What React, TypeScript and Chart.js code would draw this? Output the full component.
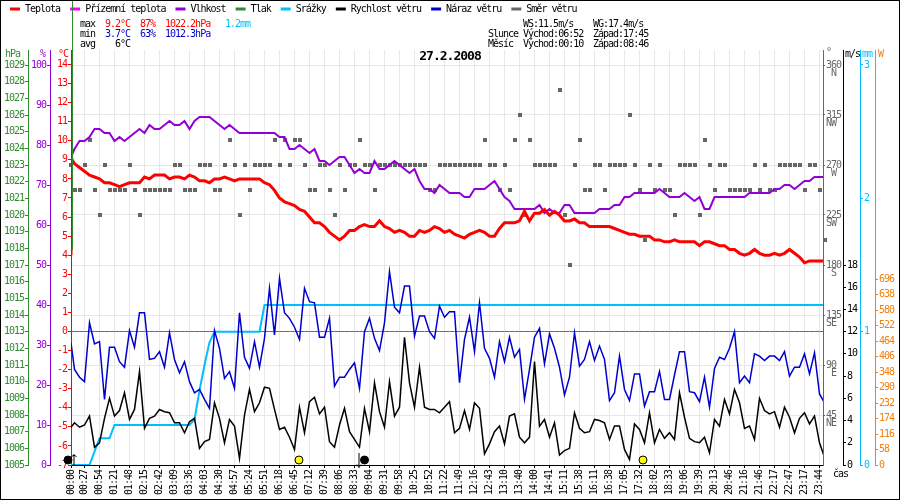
import React, { useEffect, useRef } from 'react';
import { Chart, registerables } from 'chart.js';

Chart.register(...registerables);

const FONT = '"DejaVu Sans Mono"';

const timeLabels = [
  '00:00', '00:27', '00:54', '01:21', '01:48', '02:15', '02:42', '03:09', '03:36', '04:03',
  '04:30', '04:57', '05:24', '05:51', '06:18', '06:45', '07:12', '07:39', '08:06', '08:33',
  '09:04', '09:31', '09:58', '10:25', '10:52', '11:22', '11:49', '12:16', '12:43', '13:10',
  '13:40', '14:00', '14:41', '15:11', '15:38', '16:11', '16:38', '17:05', '17:32', '18:02',
  '18:33', '19:06', '19:39', '20:13', '20:46', '21:16', '21:46', '22:17', '22:47', '23:17',
  '23:44',
];

const temperature = [
  9.1, 8.8, 8.6, 8.4, 8.2, 8.1, 8.0, 7.8, 7.8, 7.7,
  7.6, 7.7, 7.8, 7.8, 7.8, 8.1, 8.0, 8.2, 8.2, 8.2,
  8.0, 8.1, 8.1, 8.0, 8.2, 8.1, 7.9, 7.9, 7.8, 8.0,
  8.0, 8.1, 8.0, 7.9, 8.0, 8.0, 8.0, 8.0, 8.0, 7.8,
  7.7, 7.4, 7.0, 6.8, 6.7, 6.6, 6.4, 6.3, 6.0, 5.7,
  5.7, 5.5, 5.2, 5.0, 4.8, 5.0, 5.3, 5.3, 5.5, 5.6,
  5.5, 5.5, 5.8, 5.5, 5.4, 5.2, 5.3, 5.2, 5.0, 5.0,
  5.3, 5.2, 5.3, 5.5, 5.4, 5.2, 5.3, 5.1, 5.0, 4.9,
  5.1, 5.2, 5.3, 5.2, 5.0, 5.0, 5.4, 5.7, 5.7, 5.7,
  5.8, 6.3, 5.8, 6.2, 6.2, 6.4, 6.1, 6.3, 6.1, 5.8,
  5.8, 5.9, 5.7, 5.7, 5.5, 5.5, 5.5, 5.5, 5.5, 5.4,
  5.3, 5.2, 5.1, 5.1, 5.0, 5.0, 5.0, 4.8, 4.8, 4.7,
  4.7, 4.8, 4.7, 4.7, 4.7, 4.7, 4.5, 4.7, 4.7, 4.6,
  4.5, 4.5, 4.3, 4.3, 4.1, 4.0, 4.1, 4.3, 4.1, 4.0,
  4.0, 4.1, 4.0, 4.1, 4.3, 4.1, 3.9, 3.6, 3.7, 3.7,
  3.7, 3.7,
];
// the logger's first reading, drawn as a spike on the left axis
const temperatureFirst = 4.0;

const dewPoint = [
  0, 0, 0, 0, 0, 0, 0, 0, 0, 0,
  0, 0, 0, 0, 0, 0, 0, 0, 0, 0,
  0, 0, 0, 0, 0, 0, 0, 0, 0, 0,
  0, 0, 0, 0, 0, 0, 0, 0, 0, 0,
  0, 0, 0, 0, 0, 0, 0, 0, 0, 0,
  0, 0, 0, 0, 0, 0, 0, 0, 0, 0,
  0, 0, 0, 0, 0, 0, 0, 0, 0, 0,
  0, 0, 0, 0, 0, 0, 0, 0, 0, 0,
  0, 0, 0, 0, 0, 0, 0, 0, 0, 0,
  0, 0, 0, 0, 0, 0, 0, 0, 0, 0,
  0, 0, 0, 0, 0, 0, 0, 0, 0, 0,
  0, 0, 0, 0, 0, 0, 0, 0, 0, 0,
  0, 0, 0, 0, 0, 0, 0, 0, 0, 0,
  0, 0, 0, 0, 0, 0, 0, 0, 0, 0,
  0, 0, 0, 0, 0, 0, 0, 0, 0, 0,
  0, 0,
];

const humidity = [
  77, 79, 81, 81, 82, 84, 84, 83, 83, 81,
  82, 81, 82, 83, 84, 83, 85, 84, 84, 85,
  86, 85, 85, 86, 84, 86, 87, 87, 87, 86,
  85, 84, 85, 84, 83, 83, 83, 83, 83, 83,
  83, 83, 82, 82, 79, 79, 80, 79, 78, 79,
  76, 76, 75, 76, 77, 77, 75, 73, 74, 73,
  73, 76, 74, 74, 75, 76, 75, 74, 73, 74,
  71, 69, 69, 68, 70, 69, 68, 68, 68, 67,
  67, 69, 69, 69, 70, 71, 69, 67, 66, 64,
  64, 64, 64, 64, 65, 63, 64, 63, 63, 65,
  65, 63, 63, 63, 63, 63, 64, 64, 64, 65,
  65, 67, 67, 68, 68, 68, 68, 68, 69, 68,
  67, 67, 67, 68, 67, 66, 67, 64, 64, 67,
  67, 67, 67, 67, 67, 67, 68, 68, 68, 68,
  68, 69, 69, 70, 70, 69, 70, 71, 71, 72,
  72, 72,
];

// pressure has no curve on this day, only the line at the very start
const pressure = [1033, 1017.9];

const rain = [
  0, 0, 0, 0, 0, 0.1, 0.2, 0.2, 0.2, 0.3,
  0.3, 0.3, 0.3, 0.3, 0.3, 0.3, 0.3, 0.3, 0.3, 0.3,
  0.3, 0.3, 0.3, 0.3, 0.3, 0.34, 0.56, 0.75, 0.92, 1.0,
  1.0, 1.0, 1.0, 1.0, 1.0, 1.0, 1.0, 1.0, 1.0, 1.2,
  1.2, 1.2, 1.2, 1.2, 1.2, 1.2, 1.2, 1.2, 1.2, 1.2,
  1.2, 1.2, 1.2, 1.2, 1.2, 1.2, 1.2, 1.2, 1.2, 1.2,
  1.2, 1.2, 1.2, 1.2, 1.2, 1.2, 1.2, 1.2, 1.2, 1.2,
  1.2, 1.2, 1.2, 1.2, 1.2, 1.2, 1.2, 1.2, 1.2, 1.2,
  1.2, 1.2, 1.2, 1.2, 1.2, 1.2, 1.2, 1.2, 1.2, 1.2,
  1.2, 1.2, 1.2, 1.2, 1.2, 1.2, 1.2, 1.2, 1.2, 1.2,
  1.2, 1.2, 1.2, 1.2, 1.2, 1.2, 1.2, 1.2, 1.2, 1.2,
  1.2, 1.2, 1.2, 1.2, 1.2, 1.2, 1.2, 1.2, 1.2, 1.2,
  1.2, 1.2, 1.2, 1.2, 1.2, 1.2, 1.2, 1.2, 1.2, 1.2,
  1.2, 1.2, 1.2, 1.2, 1.2, 1.2, 1.2, 1.2, 1.2, 1.2,
  1.2, 1.2, 1.2, 1.2, 1.2, 1.2, 1.2, 1.2, 1.2, 1.2,
  1.2, 1.2,
];

const windSpeed = [
  3.4, 3.8, 3.4, 3.6, 4.4, 1.6, 2.0, 4.2, 6.0, 4.4,
  4.9, 6.5, 4.1, 5.0, 8.4, 3.3, 4.2, 4.4, 5.0, 4.8,
  4.7, 3.8, 3.8, 2.9, 3.9, 4.2, 1.5, 2.1, 2.3, 5.6,
  4.2, 2.0, 4.1, 3.5, 0.6, 4.5, 6.8, 4.8, 5.6, 7.0,
  6.9, 5.0, 3.2, 3.4, 2.5, 1.4, 5.2, 2.9, 5.7, 6.1,
  4.6, 5.2, 2.1, 1.6, 3.6, 5.1, 3.0, 2.3, 1.6, 5.1,
  3.0, 7.4, 4.8, 3.4, 7.5, 4.4, 5.2, 11.5, 7.4, 5.2,
  8.8, 5.2, 5.0, 5.0, 4.7, 5.2, 5.7, 2.9, 3.3, 4.9,
  3.2, 5.6, 5.1, 1.0, 1.9, 3.0, 3.5, 1.9, 4.4, 4.6,
  2.5, 2.0, 2.5, 9.3, 3.5, 4.1, 2.5, 3.8, 0.9, 1.3,
  1.5, 4.7, 3.3, 2.9, 3.0, 4.1, 4.0, 3.8, 2.3, 3.5,
  3.5, 1.4, 0.5, 3.7, 3.2, 2.0, 4.7, 2.0, 3.2, 2.4,
  2.9, 2.3, 6.5, 4.3, 2.4, 2.1, 2.0, 2.5, 1.1, 4.1,
  3.5, 5.9, 4.6, 6.8, 5.6, 3.3, 3.5, 2.3, 6.0, 4.9,
  4.6, 4.8, 3.4, 5.2, 4.3, 2.9, 4.2, 4.7, 3.7, 4.4,
  2.0, 0.7,
];

const windGust = [
  11.0, 8.6, 7.9, 7.5, 12.8, 10.9, 11.1, 5.9, 10.6, 10.6,
  9.3, 8.8, 12.1, 10.6, 13.7, 13.7, 9.5, 9.6, 10.2, 8.8,
  11.9, 9.5, 8.3, 9.3, 7.5, 6.5, 6.8, 5.9, 5.1, 12.1,
  10.5, 7.8, 8.4, 6.9, 13.7, 9.7, 8.7, 11.1, 8.8, 11.4,
  15.9, 11.7, 16.8, 13.7, 13.2, 12.4, 11.3, 15.9, 14.7, 14.6,
  11.5, 11.5, 13.2, 7.1, 7.9, 7.9, 8.6, 9.2, 6.9, 12.0,
  13.2, 11.4, 10.3, 12.8, 17.4, 14.2, 13.7, 16.1, 16.1, 11.6,
  13.4, 13.4, 12.0, 11.4, 14.3, 13.3, 13.8, 13.8, 7.4, 11.3,
  13.3, 10.2, 14.6, 10.5, 9.6, 7.9, 11.1, 9.3, 11.5, 9.7,
  10.4, 5.9, 8.6, 11.5, 12.3, 9.1, 11.8, 10.5, 8.8, 6.3,
  7.9, 11.9, 8.9, 9.5, 11.1, 9.4, 10.7, 9.5, 5.8, 6.5,
  9.8, 6.8, 5.8, 8.2, 8.2, 5.3, 6.6, 6.6, 8.4, 5.9,
  5.9, 8.1, 10.2, 10.2, 6.6, 6.5, 5.7, 7.9, 5.2, 8.7,
  9.7, 9.5, 10.5, 12.0, 7.4, 8.0, 7.4, 10.0, 9.8, 9.4,
  9.8, 9.8, 9.4, 10.2, 8.0, 8.8, 8.8, 10.0, 8.2, 10.1,
  6.4, 5.6,
];

const windDirection = [
  270, 247.5, 247.5, 270, 292.5, 247.5, 225, 270, 247.5, 247.5,
  247.5, 247.5, 270, 247.5, 225, 247.5, 247.5, 247.5, 247.5, 247.5,
  247.5, 270, 270, 247.5, 247.5, 247.5, 270, 270, 270, 247.5,
  247.5, 270, 292.5, 270, 225, 270, 247.5, 270, 270, 270,
  270, 292.5, 270, 292.5, 270, 292.5, 292.5, 270, 247.5, 247.5,
  270, 270, 247.5, 225, 270, 247.5, 270, 270, 292.5, 270,
  270, 247.5, 270, 270, 270, 270, 270, 270, 270, 270,
  270, 270, 247.5, 247.5, 270, 270, 270, 270, 270, 270,
  270, 270, 270, 292.5, 270, 270, 247.5, 270, 247.5, 292.5,
  315, 225, 292.5, 270, 270, 270, 270, 270, 337.5, 225,
  180, 270, 292.5, 247.5, 247.5, 270, 270, 247.5, 270, 270,
  270, 270, 315, 270, 247.5, 202.5, 270, 247.5, 270, 247.5,
  247.5, 225, 270, 270, 270, 270, 225, 292.5, 270, 247.5,
  270, 270, 247.5, 247.5, 247.5, 247.5, 247.5, 270, 247.5, 270,
  247.5, 247.5, 270, 270, 270, 270, 270, 247.5, 270, 270,
  247.5, 202.5,
];

const compass = ['N', 'NW', 'W', 'SW', 'S', 'SE', 'E', 'NE'];

const seriesNames = [
  'Teplota', 'Přízemní teplota', 'Vlhkost', 'Tlak', 'Srážky', 'Rychlost větru', 'Náraz větru', 'Směr větru',
];

// sample positions of the sun and moon marks at the foot of the chart
const sunMarks = [45.9, 114.7];
const moonMarks = [-0.3, 59];
const moonRise = [0.9];
const moonSet = [57.9];
const markHeight = 0.45;

const X_MIN = 0.3;
const X_MAX = 150.7;

const points = (values: number[]) =>
  values.map((y, i) => ({ x: Math.max(i, X_MIN), y }));
// half a pixel over, so the 4px squares land on whole pixels
const squares = (values: number[]) =>
  values.map((y, i) => ({ x: Math.max(i + 0.1, X_MIN), y }));
const marks = (xs: number[]) => xs.map((x) => ({ x, y: markHeight }));

// small arrow for moonrise / moonset
const arrow = (up: boolean, h: number) => {
  const c = document.createElement('canvas');
  c.width = 7;
  c.height = h;
  const g = c.getContext('2d')!;
  g.strokeStyle = '#000';
  g.beginPath();
  g.moveTo(3.5, 0);
  g.lineTo(3.5, h);
  if (up) {
    g.moveTo(1, 3);
    g.lineTo(3.5, 0.5);
    g.lineTo(6, 3);
  } else {
    g.moveTo(1, h - 3);
    g.lineTo(3.5, h - 0.5);
    g.lineTo(6, h - 3);
  }
  g.stroke();
  return c;
};

const yAxis = (
  position: string,
  weight: number,
  width: number,
  color: string,
  min: number,
  max: number,
  stepSize: number,
  limit?: number,
) => ({
  type: 'linear',
  position,
  weight,
  min,
  max,
  afterFit: (s: any) => {
    s.width = width;
  },
  afterBuildTicks: (s: any) => {
    if (limit !== undefined) s.ticks = s.ticks.filter((t: any) => t.value <= limit);
  },
  border: { color, width: 1 },
  grid: { drawOnChartArea: false, color, tickColor: color, tickLength: 3 },
  ticks: {
    color,
    stepSize,
    autoSkip: false,
    includeBounds: false,
    padding: 1,
    font: { family: FONT, size: 10 },
    callback: (v: number) => String(v),
  },
});

type Label = [string, number, number, string];

const headerText: Label[] = [
  ['max', 80, 24.5, '#000'],
  ['9.2°C', 105, 24.5, '#ff0000'],
  ['87%', 140, 24.5, '#ff0000'],
  ['1022.2hPa', 165, 24.5, '#ff0000'],
  ['1.2mm', 225, 24.5, '#00bfff'],
  ['min', 80, 34.5, '#000'],
  ['3.7°C', 105, 34.5, '#0000cd'],
  ['63%', 140, 34.5, '#0000cd'],
  ['1012.3hPa', 165, 34.5, '#0000cd'],
  ['avg', 80, 44.5, '#000'],
  ['6°C', 115, 44.5, '#000'],
  ['WS:11.5m/s', 523, 24.5, '#000'],
  ['WG:17.4m/s', 593, 24.5, '#000'],
  ['Slunce', 488, 34.5, '#000'],
  ['Východ:06:52', 523, 34.5, '#000'],
  ['Západ:17:45', 593, 34.5, '#000'],
  ['Měsíc', 488, 44.5, '#000'],
  ['Východ:00:10', 523, 44.5, '#000'],
  ['Západ:08:46', 593, 44.5, '#000'],
  ['hPa', 5, 54.5, '#2e8b2e'],
  ['%', 40, 54.5, '#9400d3'],
  ['°C', 58, 54.5, '#ff0000'],
  ['°', 826, 52, '#666666'],
  ['m/s', 845, 54.5, '#000'],
  ['mm', 862, 54.5, '#00bfff'],
  ['W', 878, 54.5, '#f08010'],
  ['čas', 833, 474, '#000'],
];

const pagePlugin = {
  id: 'page',
  beforeUpdate(chart: any) {
    // the original's pixel font runs 5px to the character
    chart.ctx.letterSpacing = '-1px';
  },
  afterDraw(chart: any) {
    const { ctx } = chart;
    ctx.save();
    ctx.font = `10px ${FONT}`;
    ctx.textAlign = 'left';
    ctx.textBaseline = 'middle';
    headerText.forEach(([text, x, y, color]) => {
      ctx.fillStyle = color;
      ctx.fillText(text, x, y);
    });
    ctx.strokeStyle = '#000';
    ctx.lineWidth = 1;
    ctx.strokeRect(0.5, 0.5, 899, 499);
    ctx.restore();
  },
};

const App = () => {
  const chartRef = useRef<HTMLCanvasElement>(null);

  useEffect(() => {
    if (chartRef.current == null) return;
    const ctx = chartRef.current.getContext('2d');
    if (ctx == null) return;

    const line = (label: string, data: any[], yAxisID: string, color: string, width: number, order: number) => ({
      label,
      data,
      yAxisID,
      borderColor: color,
      backgroundColor: color,
      borderWidth: width,
      pointRadius: 0,
      tension: 0,
      order,
    });

    const marker = (data: any[], extra: any) => ({
      label: '',
      data,
      yAxisID: 'ms',
      showLine: false,
      clip: false,
      order: -1,
      ...extra,
    });

    const myChart = new Chart(ctx, {
      type: 'line',
      data: {
        datasets: [
          line('Teplota', [{ x: X_MIN, y: temperatureFirst }, ...points(temperature)], 'temp', '#ff0000', 3, 1),
          line('Přízemní teplota', points(dewPoint), 'temp', '#ff00ff', 1, 6),
          line('Vlhkost', points(humidity), 'hum', '#9400d3', 2, 2),
          {
            ...line('Tlak', [{ x: 0.6, y: pressure[0] }, { x: 0.6, y: pressure[1] }], 'hpa', '#2e8b2e', 1, 0),
            clip: false,
          },
          line('Srážky', points(rain), 'mm', '#00bfff', 2, 5),
          line('Rychlost větru', points(windSpeed), 'ms', '#000000', 1.5, 4),
          line('Náraz větru', points(windGust), 'ms', '#0000cd', 1.5, 3),
          {
            ...line('Směr větru', squares(windDirection), 'deg', '#666666', 0, 7),
            showLine: false,
            pointRadius: 2.83,
            pointStyle: 'rect',
            pointBorderWidth: 0,
            clip: false,
          },
          marker(marks(sunMarks), {
            pointRadius: 4,
            pointStyle: 'circle',
            pointBackgroundColor: '#ffff00',
            pointBorderColor: '#000',
            pointBorderWidth: 1,
          }),
          marker(marks(moonMarks), {
            pointRadius: 4,
            pointStyle: 'circle',
            pointBackgroundColor: '#000',
            pointBorderColor: '#000',
          }),
          marker(marks(moonRise), { pointStyle: arrow(true, 12) }),
          marker(marks(moonSet), { pointStyle: arrow(false, 15) }),
        ],
      },
      options: {
        animation: false,
        responsive: false,
        events: [],
        layout: { padding: { top: -6, left: 0, right: 0, bottom: 0 } },
        plugins: {
          tooltip: { enabled: false },
          legend: {
            position: 'top',
            align: 'start',
            weight: 1000,
            labels: {
              boxWidth: 10,
              boxHeight: 3,
              padding: 10,
              color: '#000',
              font: { family: FONT, size: 10 },
              filter: (item: any) => seriesNames.includes(item.text),
              sort: (a: any, b: any) => a.datasetIndex - b.datasetIndex,
              generateLabels: (chart: any) =>
                Chart.defaults.plugins.legend.labels.generateLabels(chart).map((item: any) => ({
                  ...item,
                  fillStyle: item.text === 'Směr větru' ? '#666666' : item.strokeStyle,
                  lineWidth: 0,
                })),
            },
          },
          title: {
            display: true,
            text: '27.2.2008',
            position: 'top',
            weight: 500,
            color: '#000',
            font: { family: FONT, size: 13, weight: 'bold', lineHeight: 1 },
            padding: { top: 26.5, bottom: -13.5 },
          },
        },
        scales: {
          x: {
            type: 'linear',
            min: X_MIN,
            max: X_MAX,
            afterFit: (s: any) => {
              s.height = 35;
            },
            afterBuildTicks: (s: any) => {
              s.ticks = timeLabels.map((_, i) => ({ value: i === 0 ? X_MIN : i * 3 }));
            },
            border: { color: '#000', width: 1 },
            grid: { color: '#e8e6e6', tickColor: '#000', tickLength: 3 },
            ticks: {
              color: '#000',
              autoSkip: false,
              minRotation: 90,
              maxRotation: 90,
              padding: 2,
              font: { family: FONT, size: 10 },
              callback: (_: any, i: number) => timeLabels[i],
            },
          },
          temp: yAxis('left', 0, 21, '#ff0000', -7, 14.76, 1),
          hum: yAxis('left', 1, 22, '#9400d3', 0, 103.75, 10),
          hpa: yAxis('left', 2, 28, '#2e8b2e', 1005, 1029.9, 1),
          deg: {
            ...yAxis('right', 0, 20, '#666666', 0, 373.5, 45),
            afterBuildTicks: (s: any) => {
              s.ticks = s.ticks.filter((t: any) => t.value >= 45);
            },
            grid: { color: '#e8e6e6', tickColor: '#666666', tickLength: 2 },
            ticks: {
              color: '#666666',
              stepSize: 45,
              autoSkip: false,
              includeBounds: false,
              padding: 1,
              font: { family: FONT, size: 10, lineHeight: 0.85 },
              // blank first line keeps the number itself level with the tick
              callback: (v: number) => {
                const name = compass[(360 - v) / 45];
                return ['', String(v), name.length === 1 ? ' ' + name : name];
              },
            },
          },
          ms: yAxis('right', 1, 17, '#000000', 0, 37.35, 2, 18),
          mm: yAxis('right', 2, 15, '#00bfff', 0, 3.1125, 1),
          w: yAxis('right', 3, 25, '#f08010', 0, 1553, 58, 696),
        },
      },
      plugins: [pagePlugin],
    } as any);

    return () => {
      myChart.destroy();
    };
  }, []);

  return (
    <div style={{ position: 'absolute', left: 0, top: 0, width: 900, height: 500, background: '#fff' }}>
      <canvas ref={chartRef} width={900} height={500} style={{ display: 'block' }} />
    </div>
  );
};

export default App;
